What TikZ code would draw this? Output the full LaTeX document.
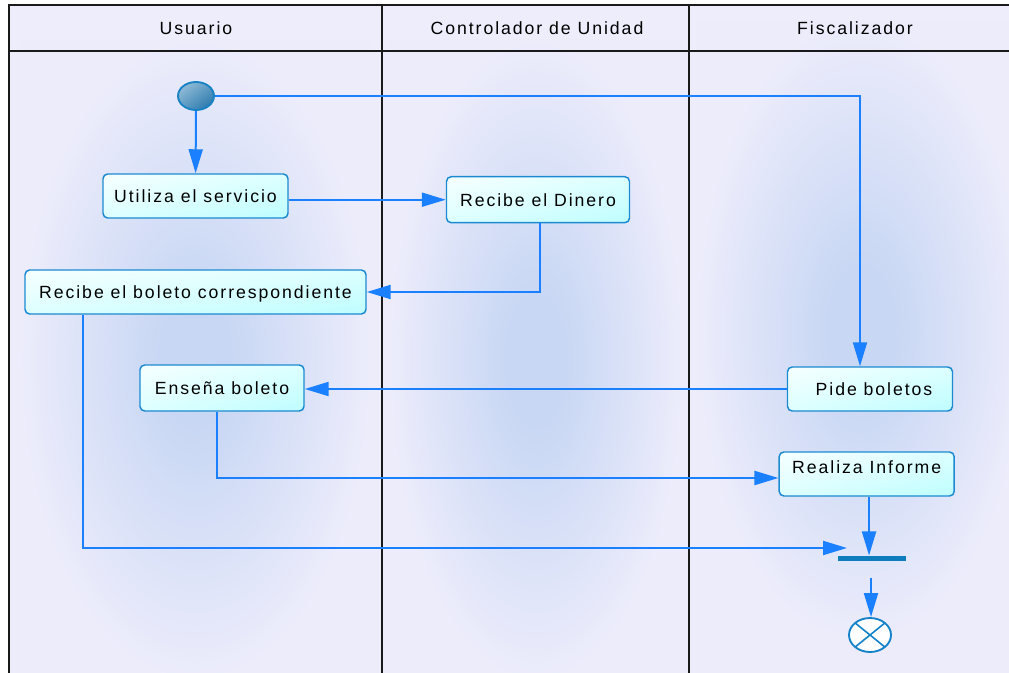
\documentclass[tikz,border=0pt]{standalone}
\usepackage{fontspec}
\setmainfont{Liberation Sans}[LetterSpace=11]
\usetikzlibrary{arrows.meta,shapes.geometric,shadings}

\definecolor{lanebg}{HTML}{ECECFB}
\definecolor{headbg}{HTML}{EDEDFC}
\definecolor{glowin}{HTML}{C8D7F4}
\definecolor{frameline}{HTML}{1A1A1A}
\definecolor{flowblue}{HTML}{1A80FF}
\definecolor{boxline}{HTML}{1C8AD0}
\definecolor{boxlight}{HTML}{F6FFFF}
\definecolor{boxmid}{HTML}{DDFFFF}
\definecolor{boxdark}{HTML}{BEFDFF}
\definecolor{startlight}{HTML}{A4C6DC}
\definecolor{startmid}{HTML}{5E9CC4}
\definecolor{startdark}{HTML}{1B6EA6}
\definecolor{startline}{HTML}{1882C4}
\definecolor{barblue}{HTML}{0E7DBE}
\definecolor{finblue}{HTML}{1482C8}

% soft blue glow in the middle of each swimlane
\pgfdeclareradialshading{laneglow}{\pgfpoint{0bp}{0bp}}{%
  color(0bp)=(glowin); color(5bp)=(glowin); color(25bp)=(lanebg); color(50bp)=(lanebg)}

\tikzset{
  txt/.style={font=\fontsize{13.25}{15}\selectfont, text=black},
  lanehead/.style={txt, inner sep=0pt},
  act/.style={txt, rectangle, rounded corners=3.5pt, draw=boxline, line width=1.1pt,
    shading=bilinear interpolation,
    upper left=boxlight, upper right=boxmid, lower left=boxmid, lower right=boxdark,
    inner sep=0pt, text height=1em, text depth=0pt},
  startnode/.style={ellipse, draw=startline, line width=1.4pt, inner sep=0pt,
    shading=bilinear interpolation,
    upper left=startlight, upper right=startmid, lower left=startmid, lower right=startdark},
  endnode/.style={ellipse, draw=finblue, line width=1.4pt, fill=white, inner sep=0pt,
    path picture={\draw[finblue, line width=1.2pt]
      (path picture bounding box.north west) -- (path picture bounding box.south east)
      (path picture bounding box.north east) -- (path picture bounding box.south west);}},
  joinbar/.style={rectangle, fill=barblue, inner sep=0pt},
  arr/.style={draw=flowblue, line width=1.5pt,
    -{Triangle[length=18pt, width=10.5pt, fill=flowblue]}},
  frame/.style={draw=frameline, line width=1.5pt}
}

\begin{document}
\begin{tikzpicture}[x=0.75pt, y=-0.75pt]
  \clip (0,0) rectangle (1009,673);
  \fill[white] (0,0) rectangle (1009,673);

  % lanes and header
  \fill[headbg] (8.5,5.5) rectangle (1030,51);
  \fill[lanebg] (8.5,51) rectangle (1030,690);
  \shade[shading=laneglow] (20,40) rectangle (370,680);
  \shade[shading=laneglow] (390,40) rectangle (682,680);
  \shade[shading=laneglow] (697,20) rectangle (1025,640);

  \draw[frame] (1030,5.5) -- (8.5,5.5) -- (8.5,690);
  \draw[frame] (8.5,51) -- (1030,51);
  \draw[frame] (382.3,5.5) -- (382.3,690);
  \draw[frame] (689.3,5.5) -- (689.3,690);

  \node[lanehead] (hUsuario) at (196,28) {Usuario};
  \node[lanehead] (hControl) at (537,28) {Controlador de Unidad};
  \node[lanehead] (hFiscal) at (855,28) {Fiscalizador};

  % activities
  \node[startnode, minimum width=0.75*36pt, minimum height=0.75*28pt] (init) at (196,96) {};
  \node[act, minimum width=0.75*185pt, minimum height=0.75*44pt] (utiliza) at (195.5,196) {Utiliza el servicio};
  \node[act, minimum width=0.75*183pt, minimum height=0.75*46pt] (dinero) at (538,199.7) {Recibe el Dinero};
  \node[act, minimum width=0.75*341pt, minimum height=0.75*44pt] (boleto) at (195.5,292) {Recibe el boleto correspondiente};
  \node[act, minimum width=0.75*164pt, minimum height=0.75*46pt] (ensena) at (222,388) {Ense\~na boleto};
  \node[act, minimum width=0.75*165pt, minimum height=0.75*44pt] (pide) at (870,389) {\hspace*{6pt}Pide boletos};
  \node[act, minimum width=0.75*175pt, minimum height=0.75*44pt, text depth=11pt] (informe) at (866.7,474) {Realiza Informe};
  \node[joinbar, minimum width=0.75*68pt, minimum height=0.75*5.5pt] (bar) at (872,558.5) {};
  \node[endnode, minimum width=0.75*42pt, minimum height=0.75*34pt] (fin) at (870,635) {};
  \coordinate (joinin) at (847,548);

  % control flow
  \draw[arr] (init) -- (utiliza);
  \draw[arr] (utiliza.east |- dinero.west) -- (dinero.west);
  \draw[arr] ([xshift=1.5pt]dinero.south) |- (boleto.east);
  \draw[arr] (init.east) -| ([xshift=-7.5pt]pide.north);
  \draw[arr] (pide.west) -- (ensena.east |- pide.west);
  \draw[arr] ([xshift=-3.75pt]ensena.south) |- ([yshift=-3pt]informe.west);
  \draw[arr] ([xshift=1.75pt]informe.south) -- ([xshift=1.75pt]informe.south |- bar.north);
  \draw[arr] ([xshift=44.25pt]boleto.south west) |- (joinin);
  \draw[arr, shorten <=12pt] ([xshift=0.75pt]fin.north |- bar.south) -- ([xshift=0.75pt]fin.north);
\end{tikzpicture}
\end{document}
